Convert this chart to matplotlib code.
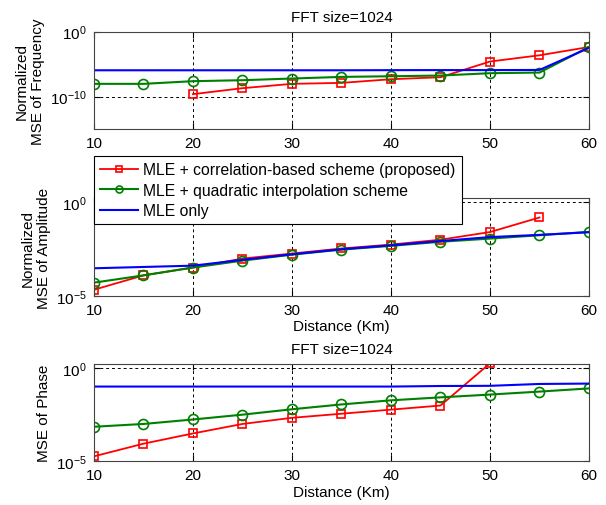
import numpy as np
import matplotlib
matplotlib.use('Agg')
import matplotlib.pyplot as plt

plt.rcParams['font.family'] = ['Liberation Sans', 'DejaVu Sans']
plt.rcParams['font.size'] = 11
plt.rcParams['mathtext.default'] = 'regular'

dist = [10, 15, 20, 25, 30, 35, 40, 45, 50, 55, 60]
labels = ['MLE + correlation-based scheme (proposed)',
          'MLE + quadratic interpolation scheme',
          'MLE only']

# log10 of the normalized MSE (nan = not plotted)
freq_corr = [np.nan, np.nan, -9.63, -8.71, -8.04, -7.89, -7.33, -7.02, -4.6, -3.64, -2.36]
freq_quad = [-8.04, -8.04, -7.63, -7.48, -7.22, -6.97, -6.87, -6.76, -6.4, -6.3, -2.36]
freq_mle = [-5.95, -5.95, -5.95, -5.95, -5.95, -5.95, -5.93, -5.92, -5.92, -5.9, -2.5]

amp_corr = [-4.68, -3.91, -3.49, -3.01, -2.74, -2.47, -2.26, -2.0, -1.59, -0.81, np.nan]
amp_quad = [-4.3, -3.91, -3.49, -3.12, -2.8, -2.53, -2.33, -2.11, -1.94, -1.76, -1.58]
amp_mle = [-3.53, -3.46, -3.39, -3.08, -2.78, -2.51, -2.3, -2.07, -1.86, -1.74, -1.6]

ph_corr = [-4.75, -4.07, -3.52, -3.01, -2.68, -2.46, -2.24, -2.02, 0.25, np.nan, np.nan]
ph_quad = [-3.16, -3.01, -2.77, -2.51, -2.22, -1.96, -1.74, -1.58, -1.43, -1.27, -1.1]
ph_mle = [-1.0, -1.0, -1.0, -1.0, -1.0, -1.0, -1.0, -0.97, -0.96, -0.86, -0.84]

fig = plt.figure(figsize=(6.06, 5.06), dpi=100)
ax1 = fig.add_axes([0.1551, 0.7431, 0.8168, 0.1923])
ax2 = fig.add_axes([0.1551, 0.4136, 0.8168, 0.1925])
ax3 = fig.add_axes([0.1551, 0.0870, 0.8168, 0.1923])


def draw(ax, corr, quad, mle, ylim, yticks):
    ax.plot(dist, 10 ** np.array(corr), '-s', color='red', lw=1.3, ms=6,
            mfc='none', mew=1.2, label=labels[0])
    ax.plot(dist, 10 ** np.array(quad), '-o', color='#008000', lw=1.5, ms=7.2,
            mfc='none', mew=1.2, label=labels[1])
    ax.plot(dist, 10 ** np.array(mle), '-', color='blue', lw=1.5, label=labels[2])
    ax.set_yscale('log')
    ax.set_xlim(10, 60)
    ax.set_ylim(*ylim)
    ax.set_yticks(yticks)
    ax.minorticks_off()
    ax.set_xticks(range(10, 61, 10))
    ax.grid(True, color='black', linestyle=(0, (3, 3)), linewidth=0.7)
    ax.tick_params(direction='in', top=True, right=True, labelsize=11, pad=5,
                   length=4)
    for s in ax.spines.values():
        s.set_linewidth(0.8)
        s.set_color('#444444')


draw(ax1, freq_corr, freq_quad, freq_mle, (1e-15, 1), [1e-10, 1])
ax1.set_title('FFT size=1024', fontsize=11, pad=8)
ax1.set_ylabel('Normalized\nMSE of Frequency')

draw(ax2, amp_corr, amp_quad, amp_mle, (1e-5, 1.65), [1e-5, 1])
ax2.set_xlabel('Distance (Km)', labelpad=2)
ax2.set_ylabel('Normalized\nMSE of Amplitude')
leg = ax2.legend(loc='upper left', bbox_to_anchor=(0, 1.437), borderaxespad=0,
                 fancybox=False, framealpha=1, edgecolor='black', fontsize=11.3,
                 handlelength=2.4, handletextpad=0.35, labelspacing=0.35,
                 borderpad=0.4, markerscale=0.7)
leg.get_frame().set_linewidth(0.8)

draw(ax3, ph_corr, ph_quad, ph_mle, (1e-5, 1.7), [1e-5, 1])
ax3.set_title('FFT size=1024', fontsize=11, pad=8)
ax3.set_xlabel('Distance (Km)', labelpad=2)
ax3.set_ylabel('MSE of Phase')

fig.savefig('out.png', dpi=100)
